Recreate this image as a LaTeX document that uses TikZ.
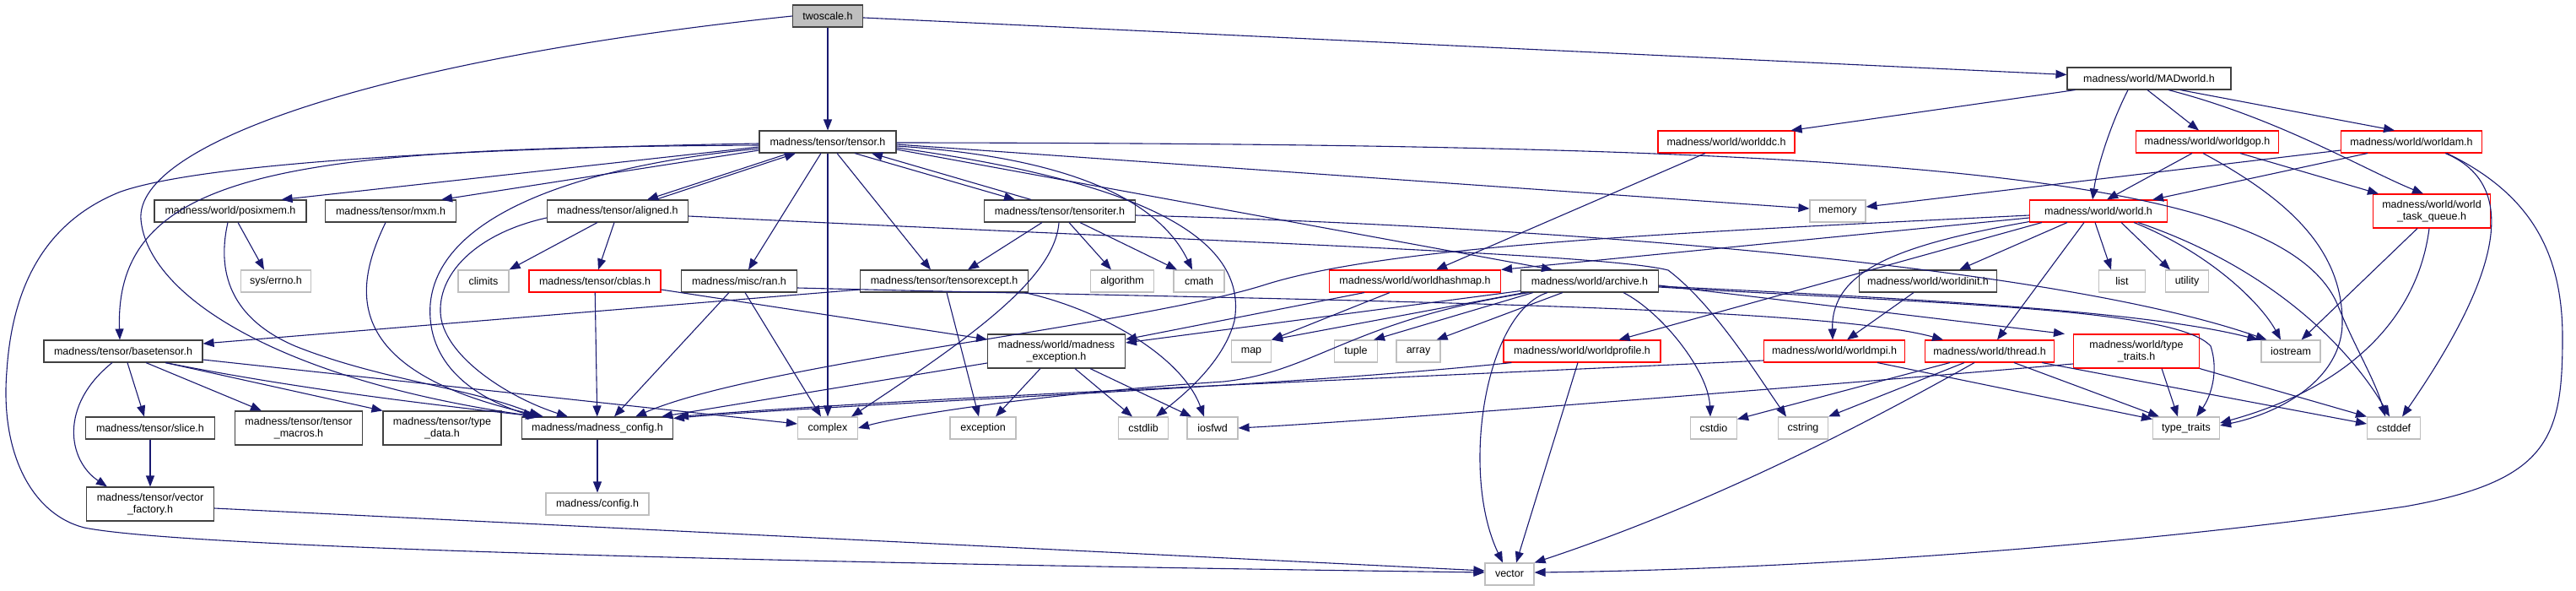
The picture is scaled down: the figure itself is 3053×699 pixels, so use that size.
\documentclass[tikz,border=0pt]{standalone}
\usepackage{fontspec}
\setmainfont{Liberation Sans}
\usetikzlibrary{arrows.meta,calc}
\definecolor{edgec}{HTML}{191970}
\definecolor{redc}{HTML}{FF0000}
\definecolor{grayc}{HTML}{BFBFBF}
\definecolor{boxc}{HTML}{404040}
\tikzset{
 hbox/.style={draw=boxc, fill=white, line width=1.1pt, minimum height=26pt, inner sep=0pt, align=center, font=\fontsize{12.5}{14}\selectfont},
 hboxtwo/.style={hbox, minimum height=40pt},
 redb/.style={draw=redc},
 sysb/.style={draw=grayc},
 rootb/.style={fill=grayc},
 edge/.style={draw=edgec, line width=1.1pt, -{Triangle[length=13pt,width=10pt]}},
}
\begin{document}
\begin{tikzpicture}[x=1pt,y=-1pt]
\useasboundingbox (0,0) rectangle (3053,699);
% ---------------- nodes
\node[hbox, rootb, minimum width=83pt] (twoscale) at (981,19) {twoscale.h};
\node[hbox, minimum width=162pt] (tensor) at (981,168) {madness/tensor/tensor.h};
\node[hbox, minimum width=194pt] (MADworld) at (2547,93) {madness/world/MADworld.h};
\node[hbox, minimum width=180pt] (posixmem) at (273,250) {madness/world/posixmem.h};
\node[hbox, minimum width=155pt] (mxm) at (463,250) {madness/tensor/mxm.h};
\node[hbox, minimum width=167pt] (aligned) at (732,250) {madness/tensor/aligned.h};
\node[hbox, minimum width=179pt] (tensoriter) at (1256,250) {madness/tensor/tensoriter.h};
\node[hbox, sysb, minimum width=66pt] (memory) at (2178,250) {memory};
\node[hbox, redb, minimum width=163pt] (world) at (2487,250) {madness/world/world.h};
\node[hbox, redb, minimum width=162pt] (worlddc) at (2046,168) {madness/world/worlddc.h};
\node[hbox, redb, minimum width=169pt] (worldgop) at (2616,168) {madness/world/worldgop.h};
\node[hbox, redb, minimum width=167pt] (worldam) at (2858,168) {madness/world/worldam.h};
\node[hboxtwo, redb, minimum width=139pt] (wtq) at (2882,250) {madness/world/world\\\_task\_queue.h};
\node[hbox, sysb, minimum width=83pt] (errno) at (327,333) {sys/errno.h};
\node[hbox, sysb, minimum width=60pt] (climits) at (573,333) {climits};
\node[hbox, redb, minimum width=156pt] (cblas) at (705,333) {madness/tensor/cblas.h};
\node[hbox, minimum width=137pt] (ran) at (876,333) {madness/misc/ran.h};
\node[hbox, minimum width=199pt] (tensorexcept) at (1119,333) {madness/tensor/tensorexcept.h};
\node[hbox, sysb, minimum width=75pt] (algorithm) at (1330,333) {algorithm};
\node[hbox, sysb, minimum width=60pt] (cmath) at (1421,333) {cmath};
\node[hbox, redb, minimum width=203pt] (worldhashmap) at (1677,333) {madness/world/worldhashmap.h};
\node[hbox, minimum width=163pt] (archive) at (1884,333) {madness/world/archive.h};
\node[hbox, minimum width=163pt] (worldinit) at (2285,333) {madness/world/worldinit.h};
\node[hbox, sysb, minimum width=55pt] (list) at (2515,333) {list};
\node[hbox, sysb, minimum width=51pt] (utility) at (2592,333) {utility};
\node[hbox, minimum width=188pt] (basetensor) at (146,416) {madness/tensor/basetensor.h};
\node[hboxtwo, minimum width=163pt] (mexc) at (1252,416) {madness/world/madness\\\_exception.h};
\node[hbox, sysb, minimum width=47pt] (map) at (1483,416) {map};
\node[hbox, sysb, minimum width=51pt] (tuple) at (1607,416) {tuple};
\node[hbox, sysb, minimum width=52pt] (array) at (1681,416) {array};
\node[hbox, redb, minimum width=186pt] (worldprofile) at (1875,416) {madness/world/worldprofile.h};
\node[hbox, redb, minimum width=167pt] (worldmpi) at (2174,416) {madness/world/worldmpi.h};
\node[hbox, redb, minimum width=153pt] (thread) at (2358,416) {madness/world/thread.h};
\node[hboxtwo, redb, minimum width=149pt] (typetraitsh) at (2532,416) {madness/world/type\\\_traits.h};
\node[hbox, sysb, minimum width=70pt] (iostream) at (2715,416) {iostream};
\node[hbox, minimum width=153pt] (slice) at (178,507) {madness/tensor/slice.h};
\node[hboxtwo, minimum width=151pt] (macros) at (354,507) {madness/tensor/tensor\\\_macros.h};
\node[hboxtwo, minimum width=140pt] (typedata) at (524,507) {madness/tensor/type\\\_data.h};
\node[hbox, minimum width=179pt] (config) at (708,507) {madness/madness\_config.h};
\node[hbox, sysb, minimum width=71pt] (complex) at (981,507) {complex};
\node[hbox, sysb, minimum width=78pt] (exception) at (1165,507) {exception};
\node[hbox, sysb, minimum width=59pt] (cstdlib) at (1355,507) {cstdlib};
\node[hbox, sysb, minimum width=60pt] (iosfwd) at (1437,507) {iosfwd};
\node[hbox, sysb, minimum width=55pt] (cstdio) at (2031,507) {cstdio};
\node[hbox, sysb, minimum width=59pt] (cstring) at (2137,507) {cstring};
\node[hbox, sysb, minimum width=79pt] (typetraits) at (2591,507) {type\_traits};
\node[hbox, sysb, minimum width=63pt] (cstddef) at (2837,507) {cstddef};
\node[hboxtwo, minimum width=151pt] (vfactory) at (178,597) {madness/tensor/vector\\\_factory.h};
\node[hbox, sysb, minimum width=122pt] (configh) at (708,597) {madness/config.h};
\node[hbox, sysb, minimum width=58pt] (vector) at (1789,680) {vector};
% ---------------- edges
% twoscale
\draw[edge] (twoscale) -- (tensor);
\draw[edge] (twoscale) -- (MADworld);
\draw[edge] (twoscale.west) .. controls (450,70) and (160,170) .. (167,260) .. controls (175,350) and (330,450) .. ($(config.north west)+(18,0)$);
% tensor
\draw[edge] ($(tensor.west)+(0,6)$) -- ($(posixmem.north east)+(-30,0)$);
\draw[edge] ($(tensor.west)+(0,10)$) -- ($(mxm.north east)+(-18,0)$);
\draw[edge] ($(tensor.south)+(-46,0)$) -- ($(aligned.north)+(35,0)$);
\draw[edge] ($(aligned.north)+(45,0)$) -- ($(tensor.south)+(-38,0)$);
\draw[edge] ($(tensor.south)+(-8,0)$) -- ($(ran.north)+(11,0)$);
\draw[edge] (tensor) -- (complex);
\draw[edge] ($(tensor.south)+(11,0)$) -- ($(tensorexcept.north)+(-16,0)$);
\draw[edge] ($(tensor.south)+(32,0)$) -- ($(tensoriter.north)+(-53,0)$);
\draw[edge] ($(tensoriter.north)+(-34,0)$) -- ($(tensor.south)+(52,0)$);
\draw[edge] ($(tensor.east)+(0,5)$) .. controls (1250,185) and (1370,230) .. ($(cmath.north)+(-8,0)$);
\draw[edge] ($(tensor.east)+(0,7)$) .. controls (1350,215) and (1480,280) .. (1463,380) .. controls (1450,430) and (1400,470) .. ($(cstdlib.north)+(15,0)$);
\draw[edge] ($(tensor.east)+(0,3)$) -- ($(memory.west)+(0,-3)$);
\draw[edge] ($(tensor.east)+(0,9)$) -- ($(archive.north)+(-44,0)$);
\draw[edge] ($(tensor.east)+(0,1)$) .. controls (2200,170) and (2700,200) .. (2770,360) .. controls (2790,410) and (2815,450) .. ($(cstddef.north)+(-10,0)$);
\draw[edge] ($(tensor.west)+(0,2)$) .. controls (600,175) and (250,190) .. (143,227) .. controls (60,260) and (15,330) .. (8,440) .. controls (0,540) and (40,610) .. (100,625) .. controls (250,655) and (1300,672) .. ($(vector.west)+(0,-2)$);
\draw[edge] ($(tensor.west)+(0,4)$) .. controls (350,175) and (135,200) .. ($(basetensor.north)+(-4,0)$);
\draw[edge] ($(tensor.west)+(0,8)$) .. controls (700,195) and (520,250) .. (510,360) .. controls (505,430) and (560,470) .. ($(config.north west)+(15,0)$);
% posixmem, mxm
\draw[edge] ($(posixmem.south)+(9,0)$) -- ($(errno.north)+(-14,0)$);
\draw[edge] ($(posixmem.south)+(-3,0)$) .. controls (255,330) and (280,380) .. (350,410) .. controls (450,450) and (560,460) .. ($(config.north west)+(22,0)$);
\draw[edge] ($(mxm.south)+(-6,0)$) .. controls (420,340) and (400,440) .. ($(config.north west)+(26,0)$);
% aligned
\draw[edge] ($(aligned.west)+(0,8)$) .. controls (570,275) and (520,320) .. (522,370) .. controls (524,420) and (600,470) .. ($(config.north)+(-35,0)$);
\draw[edge] ($(aligned.south)+(-24,0)$) -- ($(climits.north east)+(0,0)$);
\draw[edge] ($(aligned.south)+(-4,0)$) -- ($(cblas.north)+(4,0)$);
\draw[edge] ($(aligned.east)+(0,6)$) .. controls (1400,285) and (1900,300) .. (1977,320) .. controls (2030,360) and (2080,440) .. ($(cstring.north)+(-20,0)$);
% cblas, ran
\draw[edge] (cblas) -- (config);
\draw[edge] ($(cblas.east)+(0,10)$) -- ($(mexc.west)+(0,-14)$);
\draw[edge] ($(ran.south)+(-12,0)$) -- ($(config.north)+(20,0)$);
\draw[edge] ($(ran.south)+(7,0)$) -- ($(complex.north)+(-8,0)$);
\draw[edge] ($(ran.east)+(0,8)$) .. controls (1500,355) and (2150,360) .. ($(thread.north)+(-55,0)$);
% tensoriter
\draw[edge] ($(tensoriter.south)+(-21,0)$) -- ($(tensorexcept.north)+(28,0)$);
\draw[edge] ($(tensoriter.south)+(11,0)$) -- ($(algorithm.north)+(-13,0)$);
\draw[edge] ($(tensoriter.south)+(24,0)$) -- ($(cmath.north)+(-26,0)$);
\draw[edge] ($(tensoriter.south)+(-1,0)$) .. controls (1250,330) and (1150,400) .. ($(complex.north east)+(-8,0)$);
\draw[edge] ($(tensoriter.east)+(0,5)$) .. controls (1900,270) and (2450,320) .. ($(iostream.north west)+(7,0)$);
% tensorexcept
\draw[edge] ($(tensorexcept.west)+(0,10)$) -- ($(basetensor.east)+(0,-9)$);
\draw[edge] ($(tensorexcept.south)+(3,0)$) -- ($(exception.north)+(-5,0)$);
\draw[edge] ($(tensorexcept.south east)+(-5,0)$) .. controls (1300,365) and (1400,420) .. ($(iosfwd.north)+(-10,0)$);
% basetensor
\draw[edge] ($(basetensor.south)+(-13,0)$) .. controls (70,480) and (80,545) .. ($(vfactory.north west)+(25,0)$);
\draw[edge] ($(basetensor.south)+(5,0)$) -- ($(slice.north)+(-7,0)$);
\draw[edge] ($(basetensor.south)+(27,0)$) -- ($(macros.north)+(-44,0)$);
\draw[edge] ($(basetensor.south)+(50,0)$) -- (typedata.north west);
\draw[edge] ($(basetensor.south)+(50,0)$) .. controls (350,460) and (500,478) .. ($(config.north west)+(20,0)$);
\draw[edge] ($(basetensor.east)+(0,10)$) -- ($(complex.west)+(0,-5)$);
\draw[edge] (slice) -- (vfactory);
\draw[edge] ($(vfactory.east)+(0,5)$) -- ($(vector.west)+(0,-4)$);
\draw[edge] (config) -- (configh);
% madness_exception
\draw[edge] ($(mexc.south)+(-19,0)$) -- ($(exception.north)+(15,0)$);
\draw[edge] ($(mexc.south)+(22,0)$) -- ($(cstdlib.north)+(-13,0)$);
\draw[edge] ($(mexc.south)+(40,0)$) -- ($(iosfwd.north)+(-25,0)$);
\draw[edge] ($(mexc.west)+(0,14)$) -- ($(config.north east)+(-14,0)$);
% worldhashmap, archive
\draw[edge] ($(worldhashmap.south)+(-30,0)$) -- (map.north east);
\draw[edge] ($(worldhashmap.south)+(-60,0)$) -- ($(mexc.east)+(0,-14)$);
\draw[edge] ($(archive.south west)+(5,0)$) -- (map.north east);
\draw[edge] ($(archive.south west)+(15,0)$) -- ($(tuple.north east)+(-5,0)$);
\draw[edge] ($(archive.south west)+(50,0)$) -- ($(array.north east)+(-5,0)$);
\draw[edge] ($(archive.south west)+(0,-2)$) -- ($(mexc.east)+(0,-10)$);
\draw[edge] ($(archive.south)+(-50,0)$) .. controls (1760,370) and (1730,560) .. ($(vector.north)+(-8,0)$);
\draw[edge] ($(archive.south)+(40,0)$) .. controls (1970,370) and (2025,440) .. ($(cstdio.north)+(-4,0)$);
\draw[edge] ($(archive.south west)+(10,0)$) .. controls (1600,380) and (1560,440) .. (1450,452) .. controls (1250,465) and (1080,490) .. (complex.east);
\draw[edge] ($(archive.east)+(0,5)$) -- ($(typetraitsh.north west)+(-10,0)$);
\draw[edge] ($(archive.east)+(0,6)$) .. controls (2300,355) and (2550,370) .. ($(iostream.north west)+(-3,0)$);
\draw[edge] ($(archive.east)+(0,7)$) .. controls (2300,360) and (2580,365) .. (2620,410) .. controls (2630,440) and (2620,470) .. ($(typetraits.north)+(12,0)$);
% MADworld
\draw[edge] ($(MADworld.south)+(-25,0)$) .. controls (2500,150) and (2485,200) .. ($(world.north)+(-7,0)$);
\draw[edge] ($(MADworld.south)+(-2,0)$) -- ($(worldgop.north)+(-10,0)$);
\draw[edge] ($(MADworld.south)+(23,0)$) .. controls (2700,140) and (2800,200) .. ($(wtq.north)+(-10,0)$);
\draw[edge] ($(MADworld.south)+(37,0)$) -- ($(worldam.north)+(-20,0)$);
\draw[edge] ($(MADworld.south west)+(10,0)$) -- ($(worlddc.north east)+(-5,0)$);
\draw[edge] ($(worlddc.south)+(-25,0)$) -- ($(worldhashmap.north)+(25,0)$);
% worldgop, worldam, wtq
\draw[edge] ($(worldgop.south)+(-18,0)$) -- ($(world.north)+(10,0)$);
\draw[edge] ($(worldgop.south)+(39,0)$) -- ($(wtq.north west)+(7,0)$);
\draw[edge] ($(worldgop.south)+(-5,0)$) .. controls (2720,240) and (2775,300) .. (2776,380) .. controls (2777,450) and (2700,490) .. ($(typetraits.east)+(0,-3)$);
\draw[edge] ($(worldam.south west)+(32,0)$) -- ($(world.north east)+(-18,0)$);
\draw[edge] ($(worldam.west)+(0,10)$) -- ($(memory.east)+(0,-5)$);
\draw[edge] ($(worldam.south)+(40,0)$) .. controls (2990,220) and (2960,330) .. ($(cstddef.north)+(10,0)$);
\draw[edge] ($(worldam.south)+(42,0)$) .. controls (3000,230) and (3037,300) .. (3037,400) .. controls (3037,520) and (3020,570) .. (2850,600) .. controls (2500,650) and (2100,675) .. ($(vector.east)+(0,-2)$);
\draw[edge] ($(wtq.south)+(-17,0)$) -- ($(iostream.north east)+(-23,0)$);
\draw[edge] ($(wtq.south)+(-3,0)$) .. controls (2865,380) and (2780,460) .. ($(typetraits.east)+(0,-6)$);
% world
\draw[edge] ($(world.west)+(0,8)$) -- (worldhashmap.north east);
\draw[edge] ($(world.west)+(0,5)$) .. controls (2000,275) and (1650,290) .. (1500,337) .. controls (1350,385) and (900,430) .. ($(config.north east)+(-45,0)$);
\draw[edge] ($(world.south west)+(0,-1)$) .. controls (2250,290) and (2170,320) .. ($(worldmpi.north)+(-2,0)$);
\draw[edge] ($(world.south west)+(15,0)$) -- ($(worldprofile.north east)+(-50,0)$);
\draw[edge] ($(world.south)+(-37,0)$) -- ($(worldinit.north east)+(-45,0)$);
\draw[edge] ($(world.south)+(-17,0)$) -- ($(thread.north)+(9,0)$);
\draw[edge] ($(world.south)+(-4,0)$) -- ($(list.north)+(-13,0)$);
\draw[edge] ($(world.south east)+(-55,0)$) -- ($(utility.north)+(-20,0)$);
\draw[edge] ($(world.south east)+(-40,0)$) .. controls (2620,300) and (2680,360) .. ($(iostream.north)+(-12,0)$);
\draw[edge] ($(world.south east)+(-35,0)$) .. controls (2700,320) and (2790,420) .. ($(cstddef.north)+(-5,0)$);
% worldinit, worldmpi, thread, type_traits.h, worldprofile
\draw[edge] ($(worldinit.south)+(-17,0)$) -- ($(worldmpi.north)+(15,0)$);
\draw[edge] ($(worldmpi.west)+(0,11)$) .. controls (1600,450) and (1100,470) .. ($(config.north east)+(5,0)$);
\draw[edge] ($(worldmpi.south east)+(-33,0)$) -- ($(typetraits.north west)+(0,3)$);
\draw[edge] ($(thread.south west)+(30,0)$) -- ($(cstdio.north east)+(0,3)$);
\draw[edge] ($(thread.south)+(-30,0)$) -- (cstring.north east);
\draw[edge] ($(thread.south)+(-18,0)$) .. controls (2250,480) and (2050,590) .. (vector.north east);
\draw[edge] ($(thread.south)+(29,0)$) -- ($(typetraits.north west)+(8,0)$);
\draw[edge] ($(thread.south east)+(-15,0)$) -- ($(cstddef.west)+(0,-5)$);
\draw[edge] ($(typetraitsh.south east)+(-45,0)$) -- ($(typetraits.north)+(-10,0)$);
\draw[edge] (typetraitsh.south east) -- (cstddef.north west);
\draw[edge] ($(typetraitsh.west)+(0,15)$) .. controls (2000,470) and (1600,500) .. (iosfwd.east);
\draw[edge] ($(worldprofile.south)+(-5,0)$) -- ($(vector.north)+(8,0)$);
\draw[edge] ($(worldprofile.south west)+(10,0)$) .. controls (1500,460) and (1000,478) .. ($(config.north east)+(0,2)$);
\end{tikzpicture}
\end{document}
